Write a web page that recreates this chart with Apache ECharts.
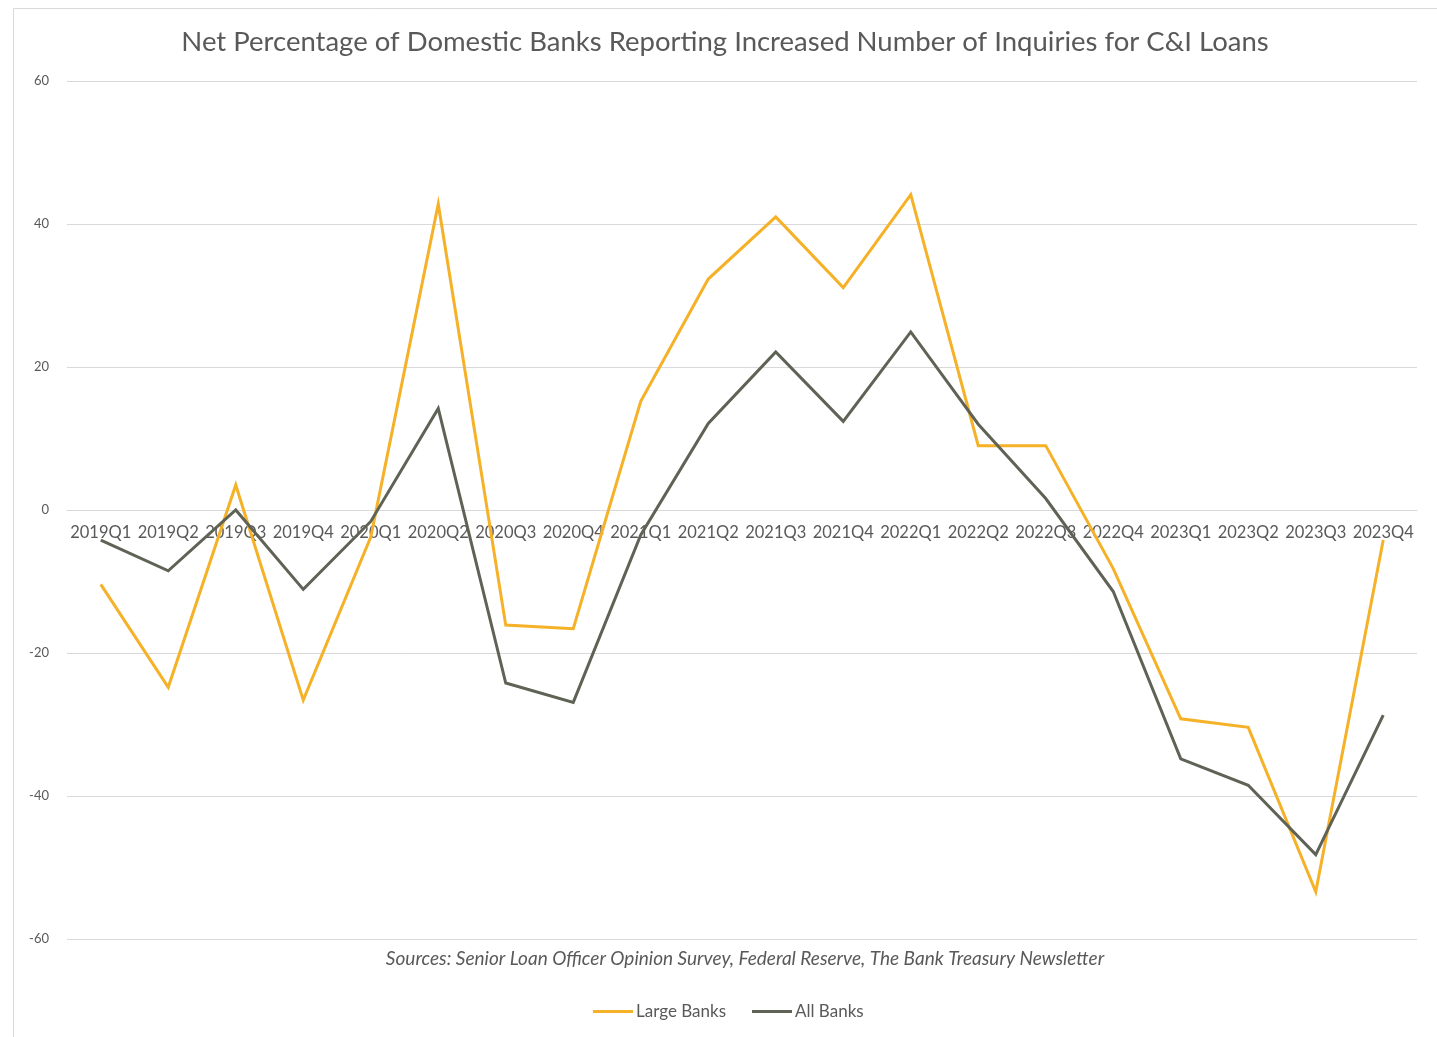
<!DOCTYPE html>
<html>
<head>
<meta charset="utf-8">
<title>Net Percentage of Domestic Banks Reporting Increased Number of Inquiries for C&amp;I Loans</title>
<script src="https://cdn.jsdelivr.net/npm/echarts@6/dist/echarts.min.js"></script>
<style>
  html, body { margin: 0; padding: 0; background: #ffffff; }
  #chart { width: 1437px; height: 1037px; }
</style>
</head>
<body>
<div id="chart"></div>
<script>
// Quarterly survey periods
const quarters = [
  '2019Q1', '2019Q2', '2019Q3', '2019Q4',
  '2020Q1', '2020Q2', '2020Q3', '2020Q4',
  '2021Q1', '2021Q2', '2021Q3', '2021Q4',
  '2022Q1', '2022Q2', '2022Q3', '2022Q4',
  '2023Q1', '2023Q2', '2023Q3', '2023Q4'
];

// Net percentage reporting stronger C&I loan inquiries
const largeBanks = [
  -10.4, -24.8, 3.5, -26.6,
  -3.8, 42.8, -16.1, -16.6,
  15.2, 32.3, 41.0, 31.1,
  44.1, 9.0, 9.0, -8.2,
  -29.2, -30.4, -53.4, -4.2
];

const allBanks = [
  -4.2, -8.5, 0.0, -11.1,
  -1.6, 14.2, -24.2, -26.9,
  -3.5, 12.1, 22.1, 12.4,
  24.9, 12.0, 1.6, -11.4,
  -34.8, -38.5, -48.2, -28.7
];

const yTicks = { min: -60, max: 60, step: 20 };

const FONT = 'Lato, "Open Sans", "DejaVu Sans", sans-serif';
const TEXT = '#595959';
const GRID = '#d9d9d9';
const ORANGE = '#F5B127';
const OLIVE = '#5F6356';

const CHART_H = 1037;
const gridBox = { left: 67, right: 20, top: 81, bottom: 98 };
// lift the category axis so it sits on the zero line of the value axis
const plotH = CHART_H - gridBox.top - gridBox.bottom;
const zeroOffset = -plotH * (0 - yTicks.min) / (yTicks.max - yTicks.min);

const chart = echarts.init(document.getElementById('chart'), null, { renderer: 'canvas' });

chart.setOption({
  backgroundColor: '#ffffff',
  animation: false,
  textStyle: { fontFamily: FONT },
  title: [
    {
      text: 'Net Percentage of Domestic Banks Reporting Increased Number of Inquiries for C&I Loans',
      left: 720,
      top: 23,
      textAlign: 'center',
      textStyle: { fontFamily: FONT, fontSize: 27.5, fontWeight: 'normal', color: TEXT }
    },
    {
      text: 'Sources: Senior Loan Officer Opinion Survey, Federal Reserve, The Bank Treasury Newsletter',
      left: 740,
      top: 944,
      textAlign: 'center',
      textStyle: { fontFamily: FONT, fontSize: 19, fontStyle: 'italic', fontWeight: 'normal', color: TEXT }
    }
  ],
  graphic: [
    {
      type: 'polyline',
      silent: true,
      shape: { points: [[13.5, 1040], [13.5, 8.5], [1440, 8.5]] },
      style: { stroke: GRID, lineWidth: 1, fill: null }
    }
  ],
  legend: {
    data: ['Large Banks', 'All Banks'],
    left: 588,
    top: 998,
    itemWidth: 40,
    itemHeight: 3,
    itemGap: 26,
    icon: 'rect',
    textStyle: { fontFamily: FONT, fontSize: 17, color: TEXT, padding: [0, 0, 0, -2] }
  },
  grid: {
    left: gridBox.left,
    right: gridBox.right,
    top: gridBox.top,
    bottom: gridBox.bottom,
    containLabel: false
  },
  xAxis: {
    type: 'category',
    data: quarters,
    boundaryGap: true,
    offset: zeroOffset,
    axisLine: { show: true, onZero: false, lineStyle: { color: GRID, width: 1 } },
    axisTick: { show: false },
    axisLabel: {
      color: TEXT,
      fontFamily: FONT,
      fontSize: 16.5,
      margin: 14,
      interval: 0
    },
    splitLine: { show: false }
  },
  yAxis: {
    type: 'value',
    min: yTicks.min,
    max: yTicks.max,
    interval: yTicks.step,
    axisLine: { show: false },
    axisTick: { show: false },
    axisLabel: {
      color: TEXT,
      fontFamily: FONT,
      fontSize: 13,
      margin: 18
    },
    splitLine: { show: true, lineStyle: { color: GRID, width: 1 } }
  },
  series: [
    {
      name: 'Large Banks',
      type: 'line',
      data: largeBanks,
      showSymbol: false,
      symbol: 'none',
      itemStyle: { color: ORANGE },
      lineStyle: { color: ORANGE, width: 3, join: 'miter' },
      z: 2
    },
    {
      name: 'All Banks',
      type: 'line',
      data: allBanks,
      showSymbol: false,
      symbol: 'none',
      itemStyle: { color: OLIVE },
      lineStyle: { color: OLIVE, width: 3, join: 'miter' },
      z: 3
    }
  ]
});
</script>
</body>
</html>
